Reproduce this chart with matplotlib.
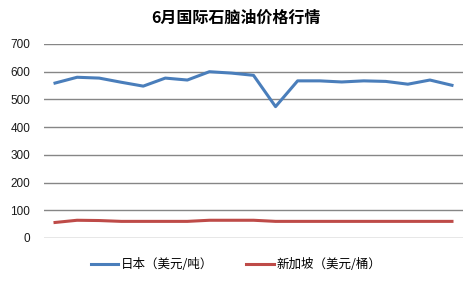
import matplotlib
matplotlib.use("Agg")
import matplotlib.pyplot as plt
from matplotlib.lines import Line2D

plt.rcParams['font.family'] = ['Noto Sans CJK SC', 'DejaVu Sans']

days = list(range(1, 20))
japan = [559, 580, 577, 562, 548, 577, 570, 600, 595, 587, 474, 567, 567, 563, 567, 565, 555, 570, 551]
singapore = [56, 64, 63, 60, 60, 60, 60, 64, 64, 64, 60, 60, 60, 60, 60, 60, 60, 60, 60]
yticks = [0, 100, 200, 300, 400, 500, 600, 700]
title = "6月国际石脑油价格行情"
labels = ["日本（美元/吨）", "新加坡（美元/桶）"]
colors = ["#4A7EBB", "#BE4B48"]

fig = plt.figure(figsize=(4.74, 2.83), dpi=100)
ax = fig.add_axes([44/474, 45/283, 419/474, 194/283])
x = list(range(len(days)))
ax.plot(x, japan, color=colors[0], lw=2.2, solid_joinstyle='round')
ax.plot(x, singapore, color=colors[1], lw=2.2, solid_joinstyle='round')
ax.set_xlim(-0.5, len(days) - 0.5)
ax.set_ylim(0, 700)
ax.set_yticks(yticks)
ax.set_xticks([])
for s in ax.spines.values():
    s.set_visible(False)
ax.grid(axis='y', color='#868686', lw=1)
ax.set_axisbelow(True)
ax.tick_params(axis='y', length=0, pad=10, labelsize=8.5, labelcolor='#1a1a1a')
for lab in ax.get_yticklabels():
    lab.set_family(['Liberation Sans', 'DejaVu Sans'])

fig.text(236/474, 1 - 18/283, title, ha='center', va='center', fontsize=11.5, fontweight='bold', color='#000000')

handles = [Line2D([0], [0], color=c, lw=2.2) for c in colors]
leg = fig.legend(handles, labels, loc='center', bbox_to_anchor=(236/474, 1 - 265/283), ncol=2,
                 frameon=False, fontsize=9, handlelength=2.2, handletextpad=0.25, columnspacing=2.6)

fig.savefig("out.png", dpi=100)
